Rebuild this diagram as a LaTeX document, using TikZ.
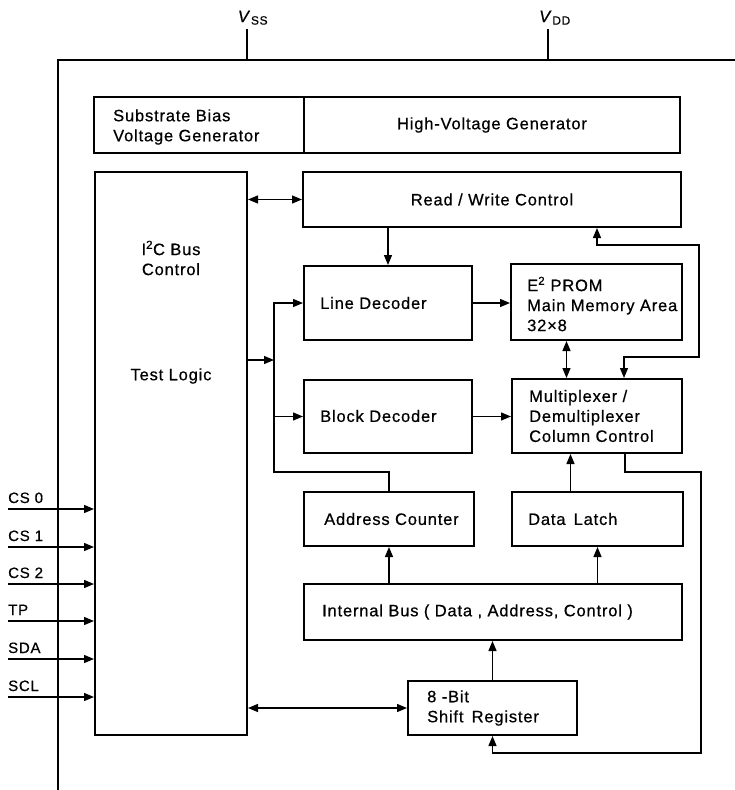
\documentclass[tikz,border=0pt]{standalone}
\usepackage{fontspec}
\setmainfont[LetterSpace=5,FakeBold=0.6]{Liberation Sans}
\usetikzlibrary{arrows.meta,calc}
\begin{document}
\begin{tikzpicture}[x=1pt,y=-1pt,
  every node/.style={font=\fontsize{16.5}{20}\selectfont},
  blk/.style={draw,line width=2pt,inner sep=0pt},
  txt/.style={anchor=west,align=left,inner sep=0pt},
  wire/.style={line width=1.3pt},
  arr/.style={wire,-{Triangle[length=10pt,width=8pt]}},
  darr/.style={wire,{Triangle[length=10pt,width=8pt]}-{Triangle[length=10pt,width=8pt]}},
  pin/.style={font=\fontsize{15}{16}\selectfont,anchor=base west,inner sep=0pt}]

\useasboundingbox (0,0) rectangle (735,790);

% chip border and supply pins
\coordinate (bl) at (58,790);
\coordinate (tl) at (58,60);
\coordinate (tr) at (735,60);
\draw[line width=1.6pt] (bl) -- (tl) -- (tr);
\coordinate (vss) at (247,60);
\coordinate (vdd) at (548,60);
\draw[wire] (vss) -- ++(0,-31);
\draw[wire] (vdd) -- ++(0,-31);
\node[anchor=base] (vsslbl) at (253,22) {\textit{V}\textsubscript{\large SS}};
\node[anchor=base] (vddlbl) at (555,22) {\textit{V}\textsubscript{\large DD}};

% blocks
\node[blk,minimum width=210,minimum height=56] (sbv) at (199,125) {};
\node[txt] (sbvt) at (113,127) {Substrate Bias\\Voltage Generator};
\node[blk,minimum width=376,minimum height=56] (hvg) at (492,125) {High-Voltage Generator};

\node[blk,minimum width=152,minimum height=563] (i2c) at (171,453.5) {};
\node[align=center,inner sep=0pt] (i2ct) at (171,258) {I\textsuperscript{2}C Bus\\Control};
\node[inner sep=0pt] (tlog) at (171,376) {Test Logic};

\node[blk,minimum width=378,minimum height=55] (rw) at (492,199.5) {Read / Write Control};

\node[blk,minimum width=168,minimum height=74] (ld) at (388,303) {};
\node[txt] (ldt) at (320,303) {Line Decoder};

\node[blk,minimum width=171,minimum height=76] (e2) at (596.5,302) {};
\node[txt] (e2t) at (527,304) {E\textsuperscript{2} PROM\\Main Memory Area\\32×8};

\node[blk,minimum width=168,minimum height=73] (bd) at (388,416.5) {};
\node[txt] (bdt) at (320,416) {Block Decoder};

\node[blk,minimum width=170,minimum height=74] (mux) at (597,416) {};
\node[txt] (muxt) at (529,416) {Multiplexer /\\Demultiplexer\\Column Control};

\node[blk,minimum width=170,minimum height=54] (ac) at (389,519) {};
\node[txt] (act) at (324,519) {Address Counter};

\node[blk,minimum width=171,minimum height=54] (dl) at (597.5,519) {};
\node[txt] (dlt) at (528,519) {Data\, Latch};

\node[blk,minimum width=378,minimum height=56] (ib) at (493,612) {};
\node[txt] (ibt) at (322,612) {Internal Bus ( Data , Address, Control )};

\node[blk,minimum width=169,minimum height=54] (sr) at (492.5,708) {};
\node[txt] (srt) at (427,708) {8 -Bit\\Shift\, Register};

% input pins
\foreach \n/\t/\y in {cs0/CS 0/509, cs1/CS 1/547, cs2/CS 2/584, tp/TP/621, sda/SDA/659, scl/SCL/697} {
  \coordinate (\n) at (8,\y);
  \node[pin] (lbl\n) at (8,\y-6) {\t};
  \draw[arr] (\n) -- (\n -| i2c.west);
}

% connectors
\draw[darr] (rw.west -| i2c.east) -- (rw.west);
\draw[arr] (rw.south -| ld.north) -- (ld.north);
\coordinate (br) at (274,360);
\coordinate (bj) at (274,472);
\draw[arr] (i2c.east |- br) -- (br);
\draw[arr] (ac.north) |- (bj) |- (ld.west);
\draw[arr] (bj |- bd.west) -- (bd.west);
\draw[arr] (ld.east) -- (ld.east -| e2.west);
\draw[arr] (bd.east) -- (bd.east -| mux.west);
\draw[darr] ([xshift=-30]e2.south) -- ([xshift=-30]e2.south |- mux.north);
\coordinate (fb1) at (699,245);
\coordinate (fb2) at (624,357);
\draw[darr] ([xshift=105]rw.south) |- (fb1) |- (fb2) -- (fb2 |- mux.north);
\draw[arr] ([xshift=-27]dl.north) -- ([xshift=-27]dl.north |- mux.south);
\coordinate (fb3) at (701,472);
\coordinate (fb4) at (492.5,753);
\draw[arr] ([xshift=28]mux.south) |- (fb3) |- (fb4) -- (sr.south);
\draw[arr] (ib.north -| ac.south) -- (ac.south);
\draw[arr] (ib.north -| dl.south) -- (dl.south);
\draw[arr] (sr.north) -- (sr.north |- ib.south);
\draw[darr] (sr.west) -- (sr.west -| i2c.east);
\end{tikzpicture}
\end{document}
